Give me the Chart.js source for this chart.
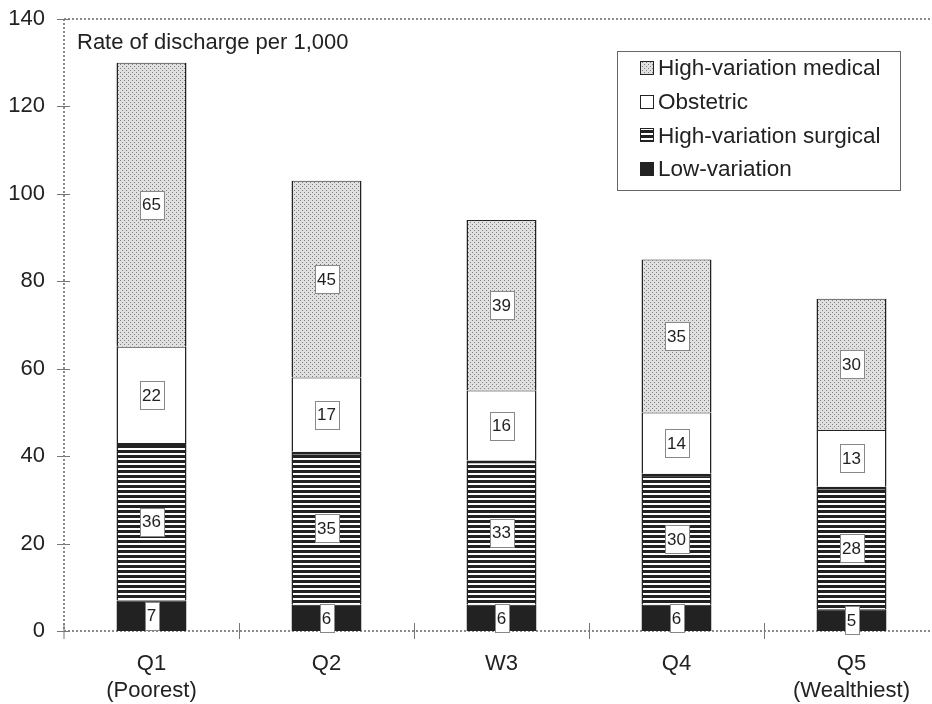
<!DOCTYPE html>
<html><head><meta charset="utf-8">
<script src="https://cdn.jsdelivr.net/npm/chart.js@4/dist/chart.umd.min.js"></script>
<style>html,body{margin:0;padding:0;overflow:hidden;background:#fff;width:932px;height:704px}canvas{display:block}</style>
</head><body>
<canvas id="c" width="939" height="704"></canvas>
<script>
// ---- data ----
const categories = [['Q1','(Poorest)'],['Q2'],['W3'],['Q4'],['Q5','(Wealthiest)']];
const lowVariation = [7,6,6,6,5];
const highVarSurgical = [36,35,33,30,28];
const obstetric = [22,17,16,14,13];
const highVarMedical = [65,45,39,35,30];
const seriesNames = ['Low-variation','High-variation surgical','Obstetric','High-variation medical'];
const legendOrder = ['High-variation medical','Obstetric','High-variation surgical','Low-variation'];
const yMin = 0, yMax = 140, yStep = 20;
const axisTitle = 'Rate of discharge per 1,000';

const FONT = "'Liberation Sans', Arial, Helvetica, sans-serif";
const INK = '#222';

function makePattern(kind){
  const c=document.createElement('canvas');
  const x=c.getContext('2d');
  if(kind==='dots'){
    c.width=4;c.height=4;
    x.fillStyle='#e0e0e0';x.fillRect(0,0,4,4);
    x.fillStyle='#808080';x.fillRect(0,0,1,1);x.fillRect(2,2,1,1);
  } else {
    c.width=5;c.height=5;
    x.fillStyle='#fff';x.fillRect(0,0,5,5);
    x.fillStyle='#222';x.fillRect(0,0,5,3);
  }
  return x.createPattern(c,'repeat');
}
const dotsPat = makePattern('dots');
const linesPat = makePattern('lines');

const fills = {
  'Low-variation':'#222',
  'High-variation surgical':linesPat,
  'Obstetric':'#fff',
  'High-variation medical':dotsPat
};

const seriesData = [lowVariation, highVarSurgical, obstetric, highVarMedical];

const datasets = seriesNames.map((n,i)=>({
  label:n,
  data:seriesData[i],
  backgroundColor:fills[n],
  borderColor:'#222',
  borderWidth: n==='High-variation surgical' ? {top:3,left:1.5,right:1.5,bottom:0} : {top:1,left:1.5,right:1.5,bottom:0},
  borderSkipped:false,
  categoryPercentage:1,
  barPercentage:0.4
}));

const axesPlugin = {
  id:'axesPlugin',
  beforeDatasetsDraw(chart){
    const {ctx, chartArea:a, scales:{x,y}} = chart;
    ctx.save();
    ctx.strokeStyle='#666';ctx.lineWidth=1.5;ctx.setLineDash([2,2]);
    ctx.beginPath();
    ctx.moveTo(a.left,a.top);ctx.lineTo(a.right,a.top);
    ctx.moveTo(a.left,a.top);ctx.lineTo(a.left,a.bottom);
    ctx.moveTo(a.left,a.bottom);ctx.lineTo(a.right,a.bottom);
    ctx.stroke();
    ctx.setLineDash([]);
    ctx.strokeStyle='#777';ctx.lineWidth=1;
    ctx.beginPath();
    for(let v=yMin; v<=yMax; v+=yStep){
      const py=Math.round(y.getPixelForValue(v))+0.5;
      ctx.moveTo(a.left-7,py);ctx.lineTo(a.left+6,py);
    }
    const n=categories.length;
    for(let i=0;i<=n;i++){
      const px = i===0 ? a.left : Math.round((x.getPixelForValue(i-1)+ (i<n ? x.getPixelForValue(i) : 2*x.getPixelForValue(i-1)-x.getPixelForValue(i-2)))/2)+0.5;
      ctx.moveTo(px,a.bottom-8);ctx.lineTo(px,a.bottom+8);
    }
    ctx.stroke();
    // axis title
    ctx.fillStyle=INK;ctx.font='22px '+FONT;ctx.textBaseline='middle';ctx.textAlign='left';
    ctx.fillText(axisTitle,a.left+13,43);
    ctx.restore();
  },
  afterDatasetsDraw(chart){
    const {ctx} = chart;
    ctx.save();
    ctx.font='17px '+FONT;ctx.textAlign='center';ctx.textBaseline='middle';
    chart.data.datasets.forEach((ds,di)=>{
      const meta=chart.getDatasetMeta(di);
      meta.data.forEach((el,i)=>{
        const p=el.getProps(['x','y','base'],true);
        const cy=(p.y+p.base)/2;
        const t=String(ds.data[i]);
        const w=Math.round(ctx.measureText(t).width)+5;
        const h=28;
        const bx=Math.round(p.x-w/2)+0.5, by=Math.round(cy-h/2)+0.5;
        ctx.fillStyle='#fff';ctx.fillRect(bx,by,w,h);
        ctx.strokeStyle='#888';ctx.lineWidth=1;ctx.strokeRect(bx,by,w,h);
        ctx.fillStyle=INK;ctx.fillText(t,p.x,cy+1);
      });
    });
    // legend
    const L={x:617.5,y:51.5,w:283,h:139};
    ctx.fillStyle='#fff';ctx.fillRect(L.x,L.y,L.w,L.h);
    ctx.strokeStyle='#666';ctx.lineWidth=1;ctx.strokeRect(L.x,L.y,L.w,L.h);
    ctx.font='22.5px '+FONT;ctx.textAlign='left';ctx.textBaseline='middle';
    legendOrder.forEach((name,i)=>{
      const cy=68+i*33.7;
      const sx=640, sy=Math.round(cy-7);
      ctx.fillStyle=fills[name];ctx.fillRect(sx,sy,14,14);
      ctx.strokeStyle='#222';ctx.lineWidth=1;ctx.strokeRect(sx+0.5,sy+0.5,13,13);
      ctx.fillStyle=INK;ctx.fillText(name,658,cy+1);
    });
    ctx.restore();
  }
};

new Chart(document.getElementById('c'),{
  type:'bar',
  data:{labels:categories,datasets},
  options:{
    responsive:false,animation:false,
    layout:{padding:{top:19,left:0,right:0,bottom:0}},
    plugins:{legend:{display:false},tooltip:{enabled:false}},
    scales:{
      x:{stacked:true,grid:{display:false},border:{display:false},
         ticks:{color:INK,font:{family:FONT,size:22,lineHeight:1.2},padding:12,maxRotation:0,autoSkip:false},
         afterFit(s){s.height=73;s.paddingLeft=0;s.paddingRight=0;}},
      y:{stacked:true,min:yMin,max:yMax,grid:{display:false},border:{display:false},
         ticks:{stepSize:yStep,color:INK,font:{family:FONT,size:22},padding:11},
         afterFit(s){s.width=64;s.paddingTop=0;s.paddingBottom=0;}}
    }
  },
  plugins:[axesPlugin]
});
</script>
</body></html>
